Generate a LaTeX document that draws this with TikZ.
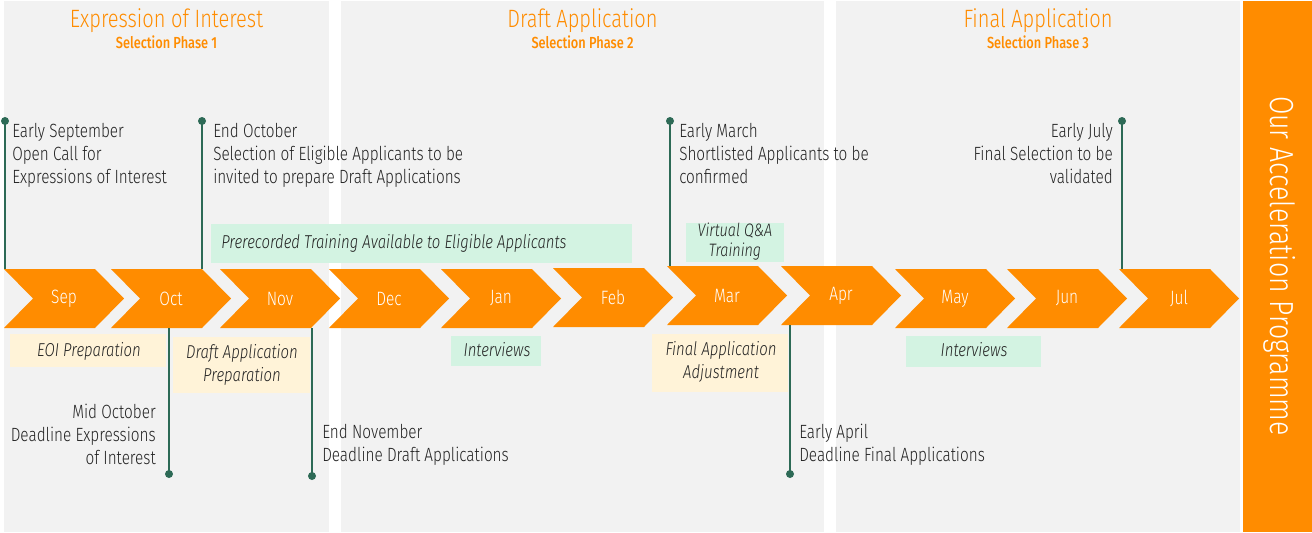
\documentclass[tikz,border=0pt]{standalone}
\usepackage{fontspec}
\setmainfont{Fira Sans Light}[FakeStretch=0.80, BoldFont=Fira Sans Medium, ItalicFont=Fira Sans Light Italic]
\usetikzlibrary{positioning}
\definecolor{PanelGrey}{RGB}{242,242,242}
\definecolor{AccOrange}{RGB}{255,140,0}
\definecolor{PinGreen}{RGB}{45,106,86}
\definecolor{MintBox}{RGB}{211,243,226}
\definecolor{CreamBox}{RGB}{255,243,216}
\definecolor{InkGrey}{RGB}{34,34,34}

\tikzset{
  note/.style={inner sep=0pt, text=InkGrey, font=\fontsize{14.35}{17.25}\selectfont},
  boxtext/.style={inner sep=0pt, text=InkGrey, align=center, font=\fontsize{14}{17.25}\selectfont\itshape},
  month/.style={inner sep=0pt, minimum width=90pt, minimum height=44.25pt, text=white, font=\fontsize{14.5}{17}\selectfont},
  phase/.style={text=AccOrange, inner sep=0pt, font=\fontsize{18.8}{20}\selectfont},
  phasesub/.style={text=AccOrange, inner sep=0pt, font=\fontsize{12}{13}\selectfont\bfseries},
  pin/.style={draw=PinGreen, line width=1.1pt},
  pindot/.style={fill=PinGreen}
}

\begin{document}
\begin{tikzpicture}[x=0.75pt, y=-0.75pt]
  \useasboundingbox (0,0) rectangle (1312,532);
  \fill[white] (0,0) rectangle (1312,532);

  % phase panels
  \fill[PanelGrey] (4,1) rectangle (329,532);
  \fill[PanelGrey] (341,1) rectangle (824,532);
  \fill[PanelGrey] (836,1) rectangle (1240,532);
  \fill[AccOrange] (1243,1) rectangle (1312,532);

  \node[phase, anchor=base] (p1) at (166.5,27) {Expression of Interest};
  \node[phasesub, anchor=base] (s1) at (166.5,48) {Selection Phase 1};
  \node[phase, anchor=base] (p2) at (582.5,27) {Draft Application};
  \node[phasesub, anchor=base] (s2) at (582.5,48) {Selection Phase 2};
  \node[phase, anchor=base] (p3) at (1038,27) {Final Application};
  \node[phasesub, anchor=base] (s3) at (1038,48) {Selection Phase 3};

  \node[rotate=-90, text=white, inner sep=0pt, font=\fontsize{25}{28}\selectfont] (prog) at (1280,266) {Our Acceleration Programme};

  % activity boxes
  \fill[MintBox] (211,224) rectangle (632,263);
  \node[boxtext, anchor=west] (train) at (221,243) {Prerecorded Training Available to Eligible Applicants};
  \fill[MintBox] (686,223) rectangle (784,262);
  \node[boxtext, font=\fontsize{13.5}{15}\selectfont\itshape] (qa) at (735,242) {Virtual Q\&A\\Training};
  \fill[CreamBox] (10,334) rectangle (166,367);
  \node[boxtext] (eoi) at (89,351) {EOI Preparation};
  \fill[CreamBox] (173,337) rectangle (310,393);
  \node[boxtext] (draft) at (242,365) {Draft Application\\Preparation};
  \fill[MintBox] (451,336) rectangle (541,366);
  \node[boxtext] (int1) at (497,350) {Interviews};
  \fill[CreamBox] (652,334) rectangle (788,392);
  \node[boxtext] (adj) at (721,362) {Final Application\\Adjustment};
  \fill[MintBox] (906,336) rectangle (1041,367);
  \node[boxtext] (int2) at (974,350) {Interviews};

  % months
  \foreach \m/\x/\y [count=\i] in {Sep/4/269, Oct/111/269, Nov/220/269, Dec/329/269,
      Jan/441/269, Feb/553/268, Mar/667/266, Apr/781/266, May/895/269, Jun/1007/269, Jul/1119/269} {
    \fill[AccOrange] (\x,\y) -- ++(91,0) -- ++(29,29.5) -- ++(-29,29.5) -- ++(-91,0) -- ++(29,-29.5) -- cycle;
    \node[month] (m\i) at (\x+60,\y+29.5) {\m};
  }

  % milestones
  \coordinate (d1) at (5,121);
  \coordinate (d2) at (202,121);
  \coordinate (d3) at (169,474);
  \coordinate (d4) at (312,476);
  \coordinate (d5) at (670,121);
  \coordinate (d6) at (790,474);
  \coordinate (d7) at (1122,121);
  \draw[pin] (d1) -- (d1 |- m1.north);
  \draw[pin] (d2) -- (d2 |- m2.north);
  \draw[pin] (d3) -- (d3 |- m2.south);
  \draw[pin] (d4) -- (d4 |- m3.south);
  \draw[pin] (d5) -- (d5 |- m7.north);
  \draw[pin] (d6) -- (d6 |- m8.south);
  \draw[pin] (d7) -- (d7 |- m11.north);
  \foreach \d in {d1,d2,d3,d4,d5,d6,d7}
    \fill[pindot] (\d) circle[radius=3pt];

  \node[note, anchor=north west, align=left] (t1) at (12,123) {Early September\\Open Call for\\Expressions of Interest};
  \node[note, anchor=north west, align=left] (t2) at (213,123) {End October\\Selection of Eligible Applicants to be\\invited to prepare Draft Applications};
  \node[note, anchor=north east, align=right] (t3) at (156,404) {Mid October\\Deadline Expressions\\of Interest};
  \node[note, anchor=north west, align=left] (t4) at (322,424) {End November\\Deadline Draft Applications};
  \node[note, anchor=north west, align=left] (t5) at (679,123) {Early March\\Shortlisted Applicants to be\\confirmed};
  \node[note, anchor=north west, align=left] (t6) at (799,424) {Early April\\Deadline Final Applications};
  \node[note, anchor=north east, align=right] (t7) at (1113,123) {Early July\\Final Selection to be\\validated};
\end{tikzpicture}
\end{document}
